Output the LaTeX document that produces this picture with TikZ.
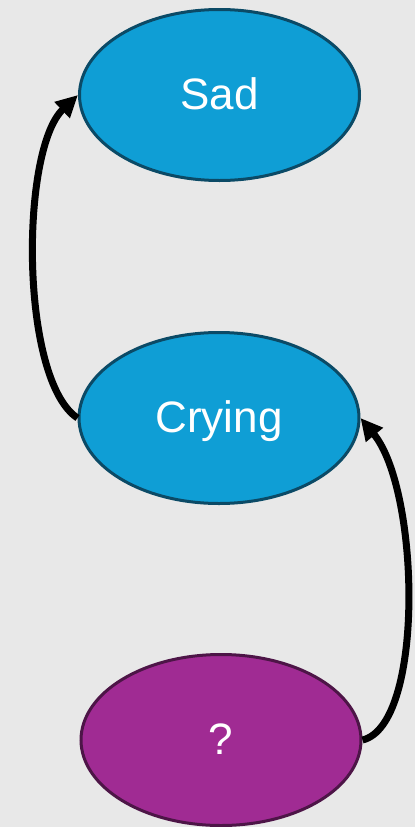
\documentclass[tikz,border=0pt]{standalone}
\usepackage{fontspec}
\setmainfont{Liberation Sans}
\usetikzlibrary{shapes.geometric,arrows.meta}
\definecolor{bg}{HTML}{E8E8E8}
\definecolor{bluefill}{HTML}{0F9ED5}
\definecolor{blueline}{HTML}{0B4A66}
\definecolor{purpfill}{HTML}{A02B93}
\definecolor{purpline}{HTML}{4D1547}
\tikzset{
  state/.style={ellipse, draw, line width=3pt, inner sep=0pt,
    minimum width=280pt, minimum height=171pt, text=white,
    text height=36pt, text depth=8pt,
    font=\fontsize{44}{52}\selectfont},
  bluestate/.style={state, fill=bluefill, draw=blueline},
  purpstate/.style={state, fill=purpfill, draw=purpline},
  conn/.style={line width=7pt, black, -{Triangle[length=22pt,width=21pt]}}
}
\begin{document}
\begin{tikzpicture}[x=1pt,y=-1pt]
\fill[bg] (0,0) rectangle (415,827);
\useasboundingbox (0,0) rectangle (415,827);
\node[bluestate] (sad) at (219.5,95) {Sad};
\node[bluestate] (cry) at (219,418) {Crying};
\node[purpstate] (q) at (221,740) {?};
\draw[conn] (cry.west) .. controls (20,380) and (20,150) .. (sad.west);
\draw[conn] (q.east) .. controls (425,725) and (420,490) .. (cry.east);
\end{tikzpicture}
\end{document}
